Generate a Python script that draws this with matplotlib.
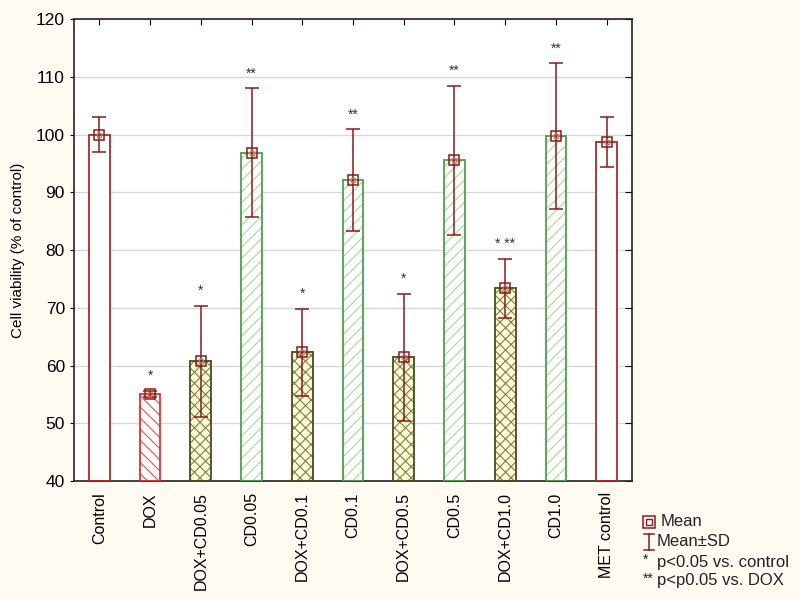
import matplotlib
matplotlib.use("Agg")
import matplotlib.pyplot as plt
from matplotlib.lines import Line2D
import numpy as np

plt.rcParams['font.family'] = ['Liberation Sans', 'DejaVu Sans']
plt.rcParams['hatch.linewidth'] = 0.8

categories = ["Control", "DOX", "DOX+CD0.05", "CD0.05", "DOX+CD0.1", "CD0.1",
              "DOX+CD0.5", "CD0.5", "DOX+CD1.0", "CD1.0", "MET control"]
means = [100.0, 55.1, 60.8, 96.9, 62.3, 92.2, 61.5, 95.6, 73.4, 99.8, 98.7]
sds = [3.0, 0.6, 9.6, 11.2, 7.6, 8.8, 11.0, 12.9, 5.1, 12.6, 4.3]
marks = ["", "*", "*", "**", "*", "**", "*", "**", "* **", "**", ""]
groups = ["ctrl", "dox", "combo", "cd", "combo", "cd", "combo", "cd", "combo", "cd", "ctrl"]

styles = {
    "ctrl": dict(face="white", hatch=None, hatchcol=None, edge="#b02828"),
    "dox": dict(face="white", hatch="\\\\\\", hatchcol="#e85050", edge="#e03030"),
    "combo": dict(face="#fbfbd6", hatch="xxx", hatchcol="#80804a", edge="#4a4a20"),
    "cd": dict(face="white", hatch="///", hatchcol="#a8d89a", edge="#4e9e4e"),
}

bg = "#fffbf3"
fig = plt.figure(figsize=(8, 6), dpi=100, facecolor=bg)
ax = fig.add_axes([0.0925, 0.198, 0.6975, 0.77])
ax.set_facecolor("white")

x = np.arange(len(categories))
w = 0.41
for i, g in enumerate(groups):
    st = styles[g]
    ax.bar(x[i], means[i] - 40, bottom=40, width=w, color=st["face"], edgecolor="none", zorder=2)
    if st["hatch"]:
        ax.bar(x[i], means[i] - 40, bottom=40, width=w, color="none", edgecolor=st["hatchcol"],
               hatch=st["hatch"], linewidth=0, zorder=3)
    ax.bar(x[i], means[i] - 40, bottom=40, width=w, color="none", edgecolor=st["edge"],
           linewidth=1.3, zorder=4)

errc = "#8b1a1a"
ax.errorbar(x, means, yerr=sds, fmt="none", ecolor=errc, elinewidth=1.1, capsize=5,
            capthick=1.1, zorder=5)
ax.plot(x, means, linestyle="none", marker="s", markersize=7, markerfacecolor="none",
        markeredgecolor=errc, markeredgewidth=1.1, zorder=6)
ax.plot(x, means, linestyle="none", marker="s", markersize=3, markerfacecolor="none",
        markeredgecolor="#d07060", markeredgewidth=0.8, zorder=6)

for i, m in enumerate(marks):
    if m:
        ax.text(x[i], means[i] + sds[i] + 1.3, m, ha="center", va="bottom", fontsize=10, color="#333333")

ax.set_xlim(-0.5, len(categories) - 0.5)
ax.set_ylim(40, 120)
ax.set_yticks(np.arange(40, 121, 10))
ax.set_xticks(x)
ax.set_xticklabels(categories, rotation=90, fontsize=11.5)
ax.tick_params(axis="y", labelsize=12.5, direction="out", length=3, right=True)
ax.tick_params(axis="x", direction="in", length=4, top=True, pad=8)
for t in ax.yaxis.get_major_ticks():
    t.tick2line.set_marker(matplotlib.lines.TICKLEFT)
    t.tick2line.set_markersize(5)
ax.yaxis.grid(True, color="#d8d8d8", linewidth=1, zorder=0)
ax.set_axisbelow(True)
for s in ax.spines.values():
    s.set_color("#222222")
    s.set_linewidth(1.2)
ax.set_ylabel("Cell viability (% of control)", fontsize=11, labelpad=8)

# legend (as figure annotations), positions measured from top of figure
lx = 0.806
ys = [0.870, 0.903, 0.937, 0.968]
y0 = 1 - ys[0]
fig.lines.append(Line2D([lx + 0.005], [y0], marker="s", markersize=9, markerfacecolor="none",
                        markeredgecolor=errc, markeredgewidth=1.1, transform=fig.transFigure))
fig.lines.append(Line2D([lx + 0.005], [y0], marker="s", markersize=4, markerfacecolor="none",
                        markeredgecolor=errc, markeredgewidth=1.0, transform=fig.transFigure))
yb = 1 - ys[1]
fig.lines.append(Line2D([lx + 0.005, lx + 0.005], [yb - 0.013, yb + 0.013], color=errc, lw=1.1,
                        transform=fig.transFigure))
fig.lines.append(Line2D([lx - 0.001, lx + 0.011], [yb + 0.013, yb + 0.013], color=errc, lw=1.1,
                        transform=fig.transFigure))
fig.lines.append(Line2D([lx - 0.001, lx + 0.011], [yb - 0.013, yb - 0.013], color=errc, lw=1.1,
                        transform=fig.transFigure))
tc = "#222222"
fig.text(lx + 0.02, y0, "Mean", fontsize=12, va="center", color=tc)
fig.text(lx + 0.015, yb, "Mean±SD", fontsize=12, va="center", color=tc)
fig.text(lx - 0.002, 1 - ys[2] + 0.004, "*", fontsize=10, va="center", color=tc)
fig.text(lx + 0.015, 1 - ys[2], "p<0.05 vs. control", fontsize=12, va="center", color=tc)
fig.text(lx - 0.002, 1 - ys[3] + 0.004, "**", fontsize=10, va="center", color=tc)
fig.text(lx + 0.015, 1 - ys[3], "p<p0.05 vs. DOX", fontsize=12, va="center", color=tc)

fig.savefig("out.png", dpi=100, facecolor=bg)
